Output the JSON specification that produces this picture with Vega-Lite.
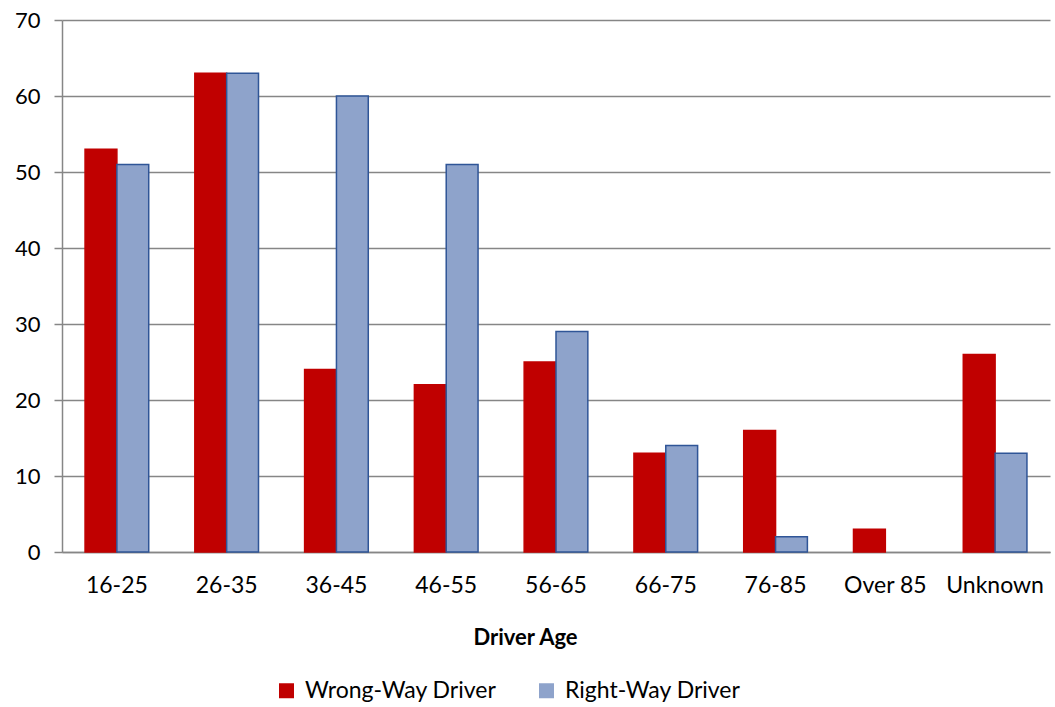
{
  "$schema": "https://vega.github.io/schema/vega-lite/v6.json",
  "autosize": "none",
  "width": 988,
  "height": 532,
  "padding": {"left": 62, "top": 20, "right": 5, "bottom": 155},
  "background": "white",
  "config": {
    "font": "Lato",
    "view": {"stroke": null}
  },
  "data": {
    "values": [
      {"age": "16-25", "driver": "Wrong-Way Driver", "count": 53},
      {"age": "16-25", "driver": "Right-Way Driver", "count": 51},
      {"age": "26-35", "driver": "Wrong-Way Driver", "count": 63},
      {"age": "26-35", "driver": "Right-Way Driver", "count": 63},
      {"age": "36-45", "driver": "Wrong-Way Driver", "count": 24},
      {"age": "36-45", "driver": "Right-Way Driver", "count": 60},
      {"age": "46-55", "driver": "Wrong-Way Driver", "count": 22},
      {"age": "46-55", "driver": "Right-Way Driver", "count": 51},
      {"age": "56-65", "driver": "Wrong-Way Driver", "count": 25},
      {"age": "56-65", "driver": "Right-Way Driver", "count": 29},
      {"age": "66-75", "driver": "Wrong-Way Driver", "count": 13},
      {"age": "66-75", "driver": "Right-Way Driver", "count": 14},
      {"age": "76-85", "driver": "Wrong-Way Driver", "count": 16},
      {"age": "76-85", "driver": "Right-Way Driver", "count": 2},
      {"age": "Over 85", "driver": "Wrong-Way Driver", "count": 3},
      {"age": "Over 85", "driver": "Right-Way Driver", "count": 0},
      {"age": "Unknown", "driver": "Wrong-Way Driver", "count": 26},
      {"age": "Unknown", "driver": "Right-Way Driver", "count": 13}
    ]
  },
  "mark": {"type": "bar", "strokeWidth": 1.5},
  "encoding": {
    "x": {
      "field": "age",
      "type": "nominal",
      "sort": null,
      "scale": {"paddingInner": 0.42, "paddingOuter": 0.21},
      "axis": {
        "title": "Driver Age",
        "titleFontSize": 22,
        "titleFontWeight": "bold",
        "titleColor": "black",
        "titleX": 463,
        "titleY": 92,
        "titleAlign": "center",
        "titleBaseline": "alphabetic",
        "labelAngle": 0,
        "labelFontSize": 23,
        "labelColor": "black",
        "labelPadding": 22,
        "labelLimit": 300,
        "ticks": false,
        "domainColor": "#868686",
        "domainWidth": 1.5
      }
    },
    "xOffset": {"field": "driver", "type": "nominal", "sort": ["Wrong-Way Driver", "Right-Way Driver"], "scale": {"paddingInner": 0, "paddingOuter": 0}},
    "y": {
      "field": "count",
      "type": "quantitative",
      "scale": {"domain": [0, 70]},
      "axis": {
        "title": null,
        "values": [0, 10, 20, 30, 40, 50, 60, 70],
        "labelFontSize": 22,
        "labelColor": "black",
        "labelPadding": 14,
        "tickSize": 8,
        "tickColor": "#868686",
        "tickWidth": 1.5,
        "domainColor": "#868686",
        "domainWidth": 1.5,
        "gridColor": "#868686",
        "gridWidth": 1.5
      }
    },
    "strokeOpacity": {"condition": {"test": "datum.count === 0", "value": 0}, "value": 1},
    "fill": {
      "field": "driver",
      "type": "nominal",
      "sort": ["Wrong-Way Driver", "Right-Way Driver"],
      "scale": {"range": ["#C00000", "#8EA3CB"]},
      "legend": {
        "title": null,
        "orient": "none",
        "legendX": 213,
        "legendY": 659,
        "direction": "horizontal",
        "padding": 0,
        "symbolType": "square",
        "symbolSize": 225,
        "symbolStrokeWidth": 1.5,
        "symbolOffset": 0,
        "labelFontSize": 23,
        "labelColor": "black",
        "labelLimit": 400,
        "labelOffset": 7,
        "columnPadding": 38
      }
    },
    "stroke": {
      "field": "driver",
      "type": "nominal",
      "sort": ["Wrong-Way Driver", "Right-Way Driver"],
      "scale": {"range": ["#C00000", "#2F5597"]}
    }
  }
}
